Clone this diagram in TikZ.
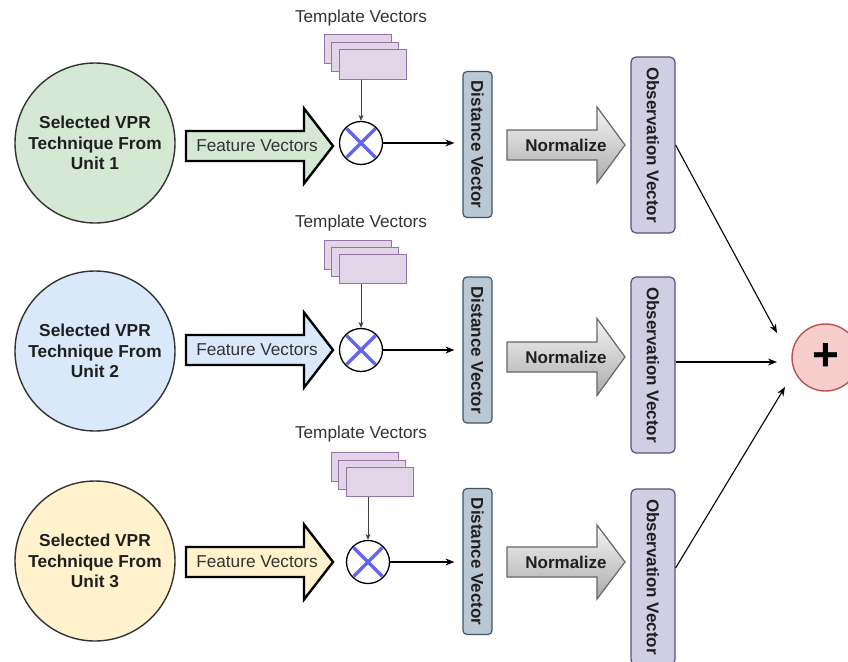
\documentclass[tikz,border=0pt]{standalone}
\usepackage{fontspec}
\setmainfont{Liberation Sans}
\usetikzlibrary{arrows.meta,calc}

\definecolor{greenfill}{HTML}{D5E8D4}
\definecolor{bluefill}{HTML}{DAE8FC}
\definecolor{yellowfill}{HTML}{FFF2CC}
\definecolor{tmplfill}{HTML}{E1D5E7}
\definecolor{tmplline}{HTML}{9673A6}
\definecolor{distfill}{HTML}{BAC8D3}
\definecolor{distline}{HTML}{3E566B}
\definecolor{obsfill}{HTML}{D0CEE2}
\definecolor{obsline}{HTML}{56517E}
\definecolor{plusfill}{HTML}{F8CECC}
\definecolor{plusline}{HTML}{B85450}
\definecolor{normtop}{HTML}{F5F5F5}
\definecolor{normbot}{HTML}{ABABAB}
\definecolor{normline}{HTML}{666666}
\definecolor{crossblue}{HTML}{6464F2}

\tikzset{
  unit/.style={circle, draw=black!80, line width=1.4pt, minimum size=160pt,
    inner sep=0pt, align=center, text=black!88,
    font=\fontsize{17.3}{20.5}\selectfont\bfseries},
  featarrow/.style={draw=black, line width=2.4pt, line join=miter},
  normarrow/.style={draw=normline, line width=1.2pt, line join=miter,
    top color=normtop, bottom color=normbot},
  lbl/.style={inner sep=0pt, text=black!80, font=\fontsize{17.2}{20}\selectfont},
  boldlbl/.style={inner sep=0pt, text=black!88, font=\fontsize{17}{20}\selectfont\bfseries},
  tmpl/.style={rectangle, draw=tmplline, fill=tmplfill, line width=1pt,
    minimum width=67pt, minimum height=29pt, inner sep=0pt},
  mult/.style={circle, draw=black, line width=1.3pt, fill=white,
    minimum size=43pt, inner sep=0pt},
  xmark/.style={draw=crossblue, line width=3.3pt, shorten <=1.5pt, shorten >=1.5pt},
  distbox/.style={rectangle, rounded corners=4pt, draw=distline, fill=distfill,
    line width=1.2pt, minimum width=29pt, minimum height=146pt, inner sep=0pt,
    text=black!88, font=\fontsize{17}{20}\selectfont\bfseries},
  obsbox/.style={rectangle, rounded corners=5pt, draw=obsline, fill=obsfill,
    line width=1.2pt, minimum width=44pt, minimum height=176pt, inner sep=0pt,
    text=black!88, font=\fontsize{17}{20}\selectfont\bfseries},
  plusnode/.style={circle, draw=plusline, fill=plusfill, line width=1.4pt,
    minimum size=67pt, inner sep=0pt, font=\fontsize{46}{46}\selectfont\bfseries},
  link/.style={-{Stealth[length=9pt,width=7pt]}, line width=1.1pt, black},
  tlink/.style={-{Stealth[length=6pt,width=5pt]}, line width=0.8pt, black!75},
}

% block arrow: style, x tail, x head base, x tip, y centre, half shaft, half head
\newcommand\drawblockarrow[7]{%
  \path[#1] (#2,{#5-#6}) -- (#3,{#5-#6}) -- (#3,{#5-#7}) -- (#4,#5)
    -- (#3,{#5+#7}) -- (#3,{#5+#6}) -- (#2,{#5+#6}) -- cycle;}

\begin{document}
\begin{tikzpicture}[x=1pt, y=-1pt]
\useasboundingbox (0,0) rectangle (848,661);
\clip (0,0) rectangle (848,661);

% ---------------- unit 1 ----------------
\node[unit, fill=greenfill] (u1) at (95,143) {Selected VPR\\Technique From\\Unit 1};
\drawblockarrow{featarrow, fill=greenfill}{186}{304}{333}{146}{15}{37.5}
\node[lbl] (fv1) at (257,146) {Feature Vectors};
\node[lbl] (tt1) at (361,18) {Template Vectors};
\node[tmpl] (ta1) at (357.5,49.5) {};
\node[tmpl] (tb1) at (365,57) {};
\node[tmpl] (tc1) at (372.5,64.5) {};
\node[mult] (m1) at (361,143) {};
\draw[xmark] (m1.north west) -- (m1.south east);
\draw[xmark] (m1.north east) -- (m1.south west);
\draw[tlink] (m1.north |- tc1.south) -- (m1.north);
\node[distbox] (d1) at (477.5,144.5) {\rotatebox{-90}{Distance Vector}};
\draw[link, shorten >=8pt] (m1.east) -- (m1.east -| d1.west);
\drawblockarrow{normarrow}{507}{597}{625}{145}{15}{38}
\node[boldlbl] (n1) at (566,145) {Normalize};
\node[obsbox] (o1) at (653,145) {\rotatebox{-90}{Observation Vector}};

% ---------------- unit 2 ----------------
\node[unit, fill=bluefill] (u2) at (95,351) {Selected VPR\\Technique From\\Unit 2};
\drawblockarrow{featarrow, fill=bluefill}{186}{304}{333}{350}{15}{37.5}
\node[lbl] (fv2) at (257,350) {Feature Vectors};
\node[lbl] (tt2) at (361,223) {Template Vectors};
\node[tmpl] (ta2) at (357.5,255) {};
\node[tmpl] (tb2) at (365,262) {};
\node[tmpl] (tc2) at (372.5,269) {};
\node[mult] (m2) at (361,350) {};
\draw[xmark] (m2.north west) -- (m2.south east);
\draw[xmark] (m2.north east) -- (m2.south west);
\draw[tlink] (m2.north |- tc2.south) -- (m2.north);
\node[distbox] (d2) at (477.5,350) {\rotatebox{-90}{Distance Vector}};
\draw[link, shorten >=8pt] (m2.east) -- (m2.east -| d2.west);
\drawblockarrow{normarrow}{507}{597}{625}{357}{15}{38.5}
\node[boldlbl] (n2) at (566,357) {Normalize};
\node[obsbox] (o2) at (653,365) {\rotatebox{-90}{Observation Vector}};

% ---------------- unit 3 ----------------
\node[unit, fill=yellowfill] (u3) at (95,561) {Selected VPR\\Technique From\\Unit 3};
\drawblockarrow{featarrow, fill=yellowfill}{186}{304}{333}{562}{15}{37.5}
\node[lbl] (fv3) at (257,562) {Feature Vectors};
\node[lbl] (tt3) at (361,434) {Template Vectors};
\node[tmpl] (ta3) at (365,467) {};
\node[tmpl] (tb3) at (372,474.5) {};
\node[tmpl] (tc3) at (379.5,481.5) {};
\node[mult] (m3) at (368,562) {};
\draw[xmark] (m3.north west) -- (m3.south east);
\draw[xmark] (m3.north east) -- (m3.south west);
\draw[tlink] (m3.north |- tc3.south) -- (m3.north);
\node[distbox] (d3) at (477.5,561.5) {\rotatebox{-90}{Distance Vector}};
\draw[link, shorten >=8pt] (m3.east) -- (m3.east -| d3.west);
\drawblockarrow{normarrow}{507}{597}{625}{562}{15}{37}
\node[boldlbl] (n3) at (566,562) {Normalize};
\node[obsbox] (o3) at (653,577) {\rotatebox{-90}{Observation Vector}};

% ---------------- fusion ----------------
\node[plusnode] (sum) at (825.5,357.5) {+};
\coordinate (e1) at (777,333);
\coordinate (e2) at (777,362);
\coordinate (e3) at (785,387);
\draw[link] (o1.east) -- (e1);
\draw[link] (o2.east |- e2) -- (e2);
\draw[link] ([yshift=9pt]o3.east) -- (e3);
\end{tikzpicture}
\end{document}
